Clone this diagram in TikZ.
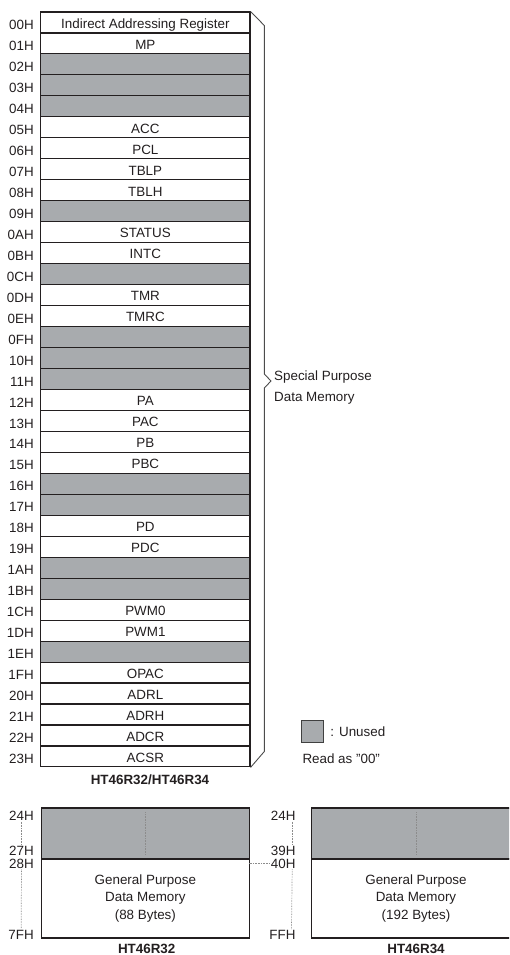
\documentclass[tikz,border=0pt]{standalone}
\usepackage{fontspec}
\setmainfont{Liberation Sans}
\usetikzlibrary{positioning}
\definecolor{unusedgray}{RGB}{168,171,174}
\definecolor{inkdark}{RGB}{35,31,32}

\begin{document}
\begin{tikzpicture}[x=1pt, y=-1pt, font=\fontsize{13.4}{16}\selectfont, text=inkdark]
      \tikzstyle{reg} = [rectangle, draw=inkdark, line width=1.1pt, fill=white, minimum width=209.3pt, minimum height=20.97pt, inner sep=0pt, text height=11.6pt, text depth=0pt]
      \tikzstyle{unused} = [reg, fill=unusedgray]
      \tikzstyle{addr} = [anchor=east, inner xsep=1pt, inner ysep=0pt, text height=9.6pt, text depth=0pt]
      \tikzstyle{brace} = [draw=black!70, line width=0.9pt]
      \tikzstyle{dotline} = [draw=black!45, line width=0.7pt, dash pattern=on 0.7pt off 0.9pt]
      \tikzstyle{title} = [font=\fontsize{13.4}{16}\selectfont\bfseries, text height=9.6pt, text depth=0pt]
      \tikzstyle{gpmem} = [rectangle, draw=inkdark, line width=1.1pt, minimum width=208.6pt, inner sep=0pt]
      \useasboundingbox (0,0) rectangle (509,955);

      % special purpose registers
      \foreach \i/\a/\t in {0/00H/Indirect Addressing Register, 1/01H/MP, 5/05H/ACC, 6/06H/PCL, 7/07H/TBLP, 8/08H/TBLH,
                            10/0AH/STATUS, 11/0BH/INTC, 13/0DH/TMR, 14/0EH/TMRC, 18/12H/PA, 19/13H/PAC, 20/14H/PB,
                            21/15H/PBC, 24/18H/PD, 25/19H/PDC, 28/1CH/PWM0, 29/1DH/PWM1, 31/1FH/OPAC, 32/20H/ADRL,
                            33/21H/ADRH, 34/22H/ADCR, 35/23H/ACSR}
      {
        \node[reg] (R-\i) at (145.35, {12+20.97*(\i+0.5)}) {\t};
        \node[addr] (addr-\i) at (35, {14.3+20.97*(\i+0.5)}) {\a};
      }
      % unused locations
      \foreach \i/\a in {2/02H, 3/03H, 4/04H, 9/09H, 12/0CH, 15/0FH, 16/10H, 17/11H, 22/16H, 23/17H, 26/1AH, 27/1BH, 30/1EH}
      {
        \node[unused] (R-\i) at (145.35, {12+20.97*(\i+0.5)}) {};
        \node[addr] (addr-\i) at (35, {14.3+20.97*(\i+0.5)}) {\a};
      }

      \draw[brace] (R-0.north east) -- (264.3,25.5) -- (264.3,374) -- (271,381) -- (264.3,388) -- (264.3,751.5) -- (R-35.south east);
      \node[anchor=west, align=left, inner sep=0pt, font=\fontsize{13.4}{20.97}\selectfont] (spdm) at (274,388) {Special Purpose\\Data Memory};
      \node[title] (T-all) at (150,779.5) {HT46R32/HT46R34};

      % key
      \node[rectangle, draw=black!75, line width=0.8pt, fill=unusedgray, minimum width=21.6pt, minimum height=21.3pt, inner sep=0pt] (key) at (312.5,731.4) {};
      \node[anchor=west, inner sep=0pt, text height=9.6pt, text depth=0pt] (key-text) at ([xshift=6.5pt]key.east) {: Unused};
      \node[anchor=west, inner sep=0pt, text height=9.6pt, text depth=0pt] (read00) at (302.3,759) {Read as \symbol{34}00\symbol{34}};

      % HT46R32 general purpose
      \node[gpmem, fill=unusedgray, minimum height=51pt] (A-top) at (145.35,833.5) {};
      \node[gpmem, fill=white, minimum height=79pt, align=center, font=\fontsize{13.4}{17.8}\selectfont] (A-gp) at (145.35,898.5) {General Purpose\\Data Memory\\(88 Bytes)};
      \draw[dotline] ([yshift=-5pt]A-top.north) -- ([yshift=5pt]A-top.south);
      \node[addr] (a-24) at (35,815.5) {24H};
      \node[addr] (a-27) at (35,850.2) {27H};
      \node[addr] (a-28) at (35,863.6) {28H};
      \node[addr] (a-7F) at (35,935) {7FH};
      \draw[dotline] ([yshift=-1pt]a-24.south) -- ([yshift=1pt]a-27.north);
      \draw[dotline] ([yshift=-1pt]a-28.south) -- ([yshift=1pt]a-7F.north);
      \node[title] (T-32) at (146.7,948.7) {HT46R32};

      % HT46R34 general purpose
      \begin{scope}
        \clip (0,0) rectangle (509,955);
        \node[gpmem, fill=unusedgray, minimum height=51pt] (B-top) at (416,833.5) {};
        \node[gpmem, fill=white, minimum height=79pt, align=center, font=\fontsize{13.4}{17.8}\selectfont] (B-gp) at (416,898.5) {General Purpose\\Data Memory\\(192 Bytes)};
      \end{scope}
      \draw[dotline] ([yshift=-5pt]B-top.north) -- ([yshift=5pt]B-top.south);
      \node[addr] (b-24) at (296.7,815.5) {24H};
      \node[addr] (b-39) at (296.7,850.4) {39H};
      \node[addr] (b-40) at (296.7,863.4) {40H};
      \node[addr] (b-FF) at (296.7,935) {FFH};
      \draw[dotline] ([xshift=9pt, yshift=-1pt]b-24.south) -- ([xshift=9pt, yshift=1pt]b-39.north);
      \draw[dotline] ([xshift=9pt, yshift=-1pt]b-40.south) -- ([xshift=9pt, yshift=1pt]b-FF.north);
      \draw[dotline] ([yshift=0pt]b-40.west) -- ++(-21,0);
      \node[title] (T-34) at (416,948.7) {HT46R34};
\end{tikzpicture}
\end{document}
